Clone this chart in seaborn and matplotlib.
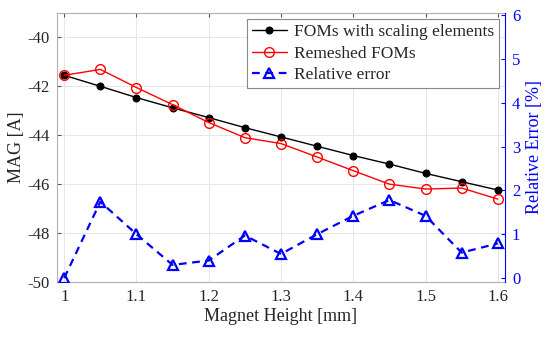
import matplotlib.pyplot as plt
import seaborn as sns
import numpy as np
import pandas as pd

# data
height = [1.0, 1.05, 1.1, 1.15, 1.2, 1.25, 1.3, 1.35, 1.4, 1.45, 1.5, 1.55, 1.6]
mag_scaling = [-41.55, -42.0, -42.46, -42.88, -43.28, -43.69, -44.07, -44.45, -44.83, -45.18, -45.56, -45.9, -46.24]
mag_remeshed = [-41.55, -41.31, -42.05, -42.75, -43.48, -44.1, -44.34, -44.89, -45.45, -46.0, -46.2, -46.16, -46.61]
rel_error = [0.0, 1.74, 1.0, 0.3, 0.4, 0.97, 0.55, 1.0, 1.42, 1.78, 1.42, 0.58, 0.79]

x_ticks = [1, 1.1, 1.2, 1.3, 1.4, 1.5, 1.6]
x_ticklabels = ["1", "1.1", "1.2", "1.3", "1.4", "1.5", "1.6"]
left_ticks = [-50, -48, -46, -44, -42, -40]
right_ticks = [0, 1, 2, 3, 4, 5, 6]

df = pd.DataFrame({"height": height, "scaling": mag_scaling,
                   "remeshed": mag_remeshed, "error": rel_error})

sns.set_style("white")
plt.rcParams['font.family'] = ['Liberation Serif', 'DejaVu Serif']
plt.rcParams['axes.unicode_minus'] = False

fig = plt.figure(figsize=(5.5, 3.4), dpi=100)
ax = fig.add_axes([0.1036, 0.1706, 0.8146, 0.7914])
ax2 = ax.twinx()

blue = '#0000ff'
sns.lineplot(data=df, x="height", y="scaling", ax=ax, color='black', marker='o',
             markersize=5, markeredgecolor='black', linewidth=1.0,
             label='FOMs with scaling elements', legend=False)
sns.lineplot(data=df, x="height", y="remeshed", ax=ax, color='red', marker='o',
             markersize=7, markerfacecolor='none', markeredgecolor='red',
             markeredgewidth=1.0, linewidth=1.0, label='Remeshed FOMs', legend=False)
sns.lineplot(data=df, x="height", y="error", ax=ax2, color=blue, marker='^',
             markersize=6.5, markerfacecolor='none', markeredgecolor=blue,
             markeredgewidth=1.6, linewidth=1.6, dashes=False,
             label='Relative error', legend=False)
ax2.lines[0].set_dashes((3.5, 2.5))

ax.set_xlim(0.99, 1.61)
ax.set_ylim(-50, -39)
ax2.set_ylim(-0.09, 6.05)

ax.set_xticks(x_ticks)
ax.set_xticklabels(x_ticklabels)
ax.set_yticks(left_ticks)
ax2.set_yticks(right_ticks)

ax.grid(True, color='#e6e6e6', linewidth=0.7)
ax.set_axisbelow(True)

ax.tick_params(axis='both', direction='in', length=3, labelsize=12, color='#555555',
               top=True, right=False, pad=5)
ax2.tick_params(axis='y', direction='in', length=3, labelsize=12, colors=blue, pad=5)

for s in ['left', 'top', 'bottom']:
    ax.spines[s].set_color('#b0b0b0')
    ax.spines[s].set_linewidth(0.8)
for s in ['left', 'top', 'bottom']:
    ax2.spines[s].set_visible(False)
ax.spines['right'].set_visible(False)
ax2.spines['right'].set_color(blue)
ax2.spines['right'].set_linewidth(0.8)

ax.set_xlabel('Magnet Height [mm]', fontsize=13, labelpad=2)
ax.set_ylabel('MAG [A]', fontsize=13, labelpad=2)
ax2.set_ylabel('Relative Error [%]', fontsize=13, color=blue, labelpad=4)

h1, l1 = ax.get_legend_handles_labels()
h2, l2 = ax2.get_legend_handles_labels()
leg = ax2.legend(h1 + h2, l1 + l2, loc='upper right', fontsize=12.5, frameon=True,
                 fancybox=False, edgecolor='#888888', framealpha=1,
                 borderaxespad=0.35, handlelength=2.0, handletextpad=0.4,
                 labelspacing=0.3, borderpad=0.3)
leg.get_frame().set_linewidth(0.8)

plt.savefig('out.png', dpi=100)
